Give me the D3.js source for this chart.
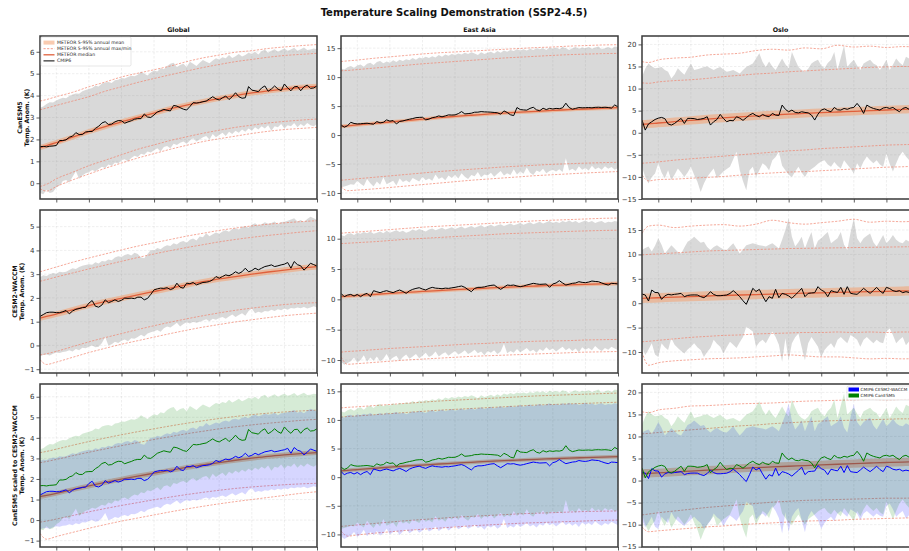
<!DOCTYPE html>
<html><head><meta charset="utf-8">
<script src="https://cdn.jsdelivr.net/npm/d3@7"></script>
<style>body{margin:0;background:#fff}svg{display:block;font-family:"DejaVu Sans",sans-serif}</style>
</head><body><svg id="c" width="909" height="551"></svg>
<script>
// ---------------- DATA ----------------
const YEARS = d3.range(2015, 2101);
const METEOR_YEARS = [2015,2017,2020,2025,2030,2035,2040,2045,2050,2055,2060,2065,2070,2075,2080,2085,2090,2095,2100];
const X_TICKS = [2020,2030,2040,2050,2060,2070,2080,2090,2100];
const ROW_LABELS = ["CanESM5", "CESM2-WACCM", "CanESM5 scaled to CESM2-WACCM"];
const COL_TITLES = ["Global", "East Asia", "Oslo"];

// CMIP6 CanESM5
const CAN_GLB_MEAN = [1.67,1.68,1.66,1.69,1.70,1.72,1.95,1.95,1.98,2.10, 2.15,2.31,2.22,2.22,2.34,2.36,2.36,2.50,2.60,2.75, 2.81,2.68,2.70,2.80,2.86,2.85,2.74,2.80,2.85,2.92, 2.95,2.95,3.16,3.02,3.00,3.12,3.25,3.31,3.37,3.33, 3.30,3.55,3.52,3.45,3.38,3.34,3.50,3.68,3.66,3.68, 3.72,3.75,3.85,3.95,3.85,3.80,3.90,3.98,3.82,3.95, 4.13,3.95,3.88,3.90,4.41,4.25,4.22,4.18,4.35,4.44, 4.20,4.30,4.44,4.30,4.22,4.53,4.35,4.22,4.40,4.42, 4.22,4.40,4.48,4.33,4.35,4.44];
const CAN_GLB_MAX = [3.45,3.50,3.62,3.70,3.68,3.78,3.85,3.90,3.88,3.98, 4.05,4.10,4.08,4.20,4.25,4.30,4.35,4.45,4.42,4.55, 4.60,4.62,4.58,4.70,4.72,4.80,4.78,4.85,4.90,4.88, 4.95,5.10,5.00,4.92,5.05,5.15,5.10,5.25,5.20,5.35, 5.45,5.50,5.30,5.40,5.45,5.30,5.55,5.45,5.35,5.50, 5.62,5.55,5.48,5.60,5.70,5.65,5.75,5.70,5.85,5.72, 5.80,5.90,5.78,5.85,5.95,5.90,6.00,5.88,6.02,6.10, 5.95,6.05,6.12,6.00,6.08,6.15,6.05,6.10,6.18,6.05, 6.12,6.20,6.08,6.10,6.15,6.12];
const CAN_GLB_MIN = [-0.45,-0.50,-0.30,-0.45,-0.40,-0.20,-0.10,0.10,0.15,0.05, 0.30,0.55,0.20,0.35,0.45,0.50,0.60,0.55,0.65,0.75, 0.70,0.85,0.80,0.95,0.90,1.05,1.10,1.00,1.15,1.25, 1.20,1.35,1.30,1.45,1.40,1.50,1.60,1.45,1.65,1.70, 1.60,1.80,1.75,1.85,1.90,1.80,1.95,2.05,1.90,2.00, 2.10,2.15,2.00,2.25,2.10,2.20,2.30,2.15,2.35,2.25, 2.40,2.30,2.45,2.35,2.50,2.40,2.55,2.45,2.60,2.50, 2.65,2.40,2.60,2.55,2.70,2.50,2.65,2.60,2.75,2.55, 2.70,2.60,2.75,2.65,2.60,2.70];
const CAN_EA_MEAN = [1.75,1.35,1.60,2.20,2.00,1.92,1.95,2.00,2.04,1.95, 1.87,2.33,2.10,2.20,2.62,2.40,2.50,1.92,2.35,2.44, 2.60,2.73,2.85,3.00,3.05,3.07,2.62,2.75,3.00,3.10, 3.30,3.15,3.30,3.48,3.45,3.48,3.70,4.05,3.65,3.70, 3.77,3.94,3.95,4.05,4.00,3.98,3.95,3.90,3.85,3.60, 4.17,3.90,3.50,3.36,4.75,4.40,4.34,4.30,4.60,4.80, 4.35,4.20,4.63,4.40,4.60,4.50,4.60,4.55,4.70,5.50, 4.75,4.46,4.60,4.75,4.70,4.72,4.75,4.70,4.78,4.80, 4.76,4.80,4.75,4.65,5.20,4.85];
const CAN_EA_MAX = [11.5,11.3,11.7,11.9,11.6,12.0,12.2,11.8,12.3,12.5, 12.1,12.6,12.8,12.4,12.7,12.5,12.9,12.6,13.0,12.8, 13.1,12.9,13.3,13.0,13.4,13.2,13.5,13.3,13.6,13.4, 13.8,13.5,13.9,13.7,14.0,13.8,14.1,13.9,14.2,14.0, 14.3,14.1,13.8,14.3,14.0,14.2,14.4,14.1,14.5,14.2, 14.6,14.4,14.7,14.5,14.8,14.6,14.8,14.6,14.9,14.7, 15.0,14.8,15.0,14.7,15.1,14.9,15.1,14.8,15.2,15.0, 14.7,15.0,15.2,14.9,15.1,15.0,15.2,14.9,15.1,15.3, 14.8,15.0,15.2,14.9,15.3,15.2];
const CAN_EA_MIN = [-9.0,-8.9,-8.7,-8.5,-8.6,-7.9,-8.4,-8.8,-7.6,-8.3, -8.9,-8.0,-8.6,-7.3,-8.5,-8.2,-7.9,-8.7,-7.5,-8.1, -7.8,-8.2,-7.4,-7.7,-8.0,-7.2,-7.8,-7.5,-7.9,-6.8, -7.6,-7.3,-7.8,-7.0,-7.4,-6.9,-7.5,-6.6,-7.2,-7.6, -6.9,-7.1,-6.4,-7.3,-6.8,-7.0,-6.5,-7.2,-6.7,-6.2, -7.0,-6.6,-6.9,-5.9,-6.8,-6.3,-6.7,-5.6,-6.5,-6.9, -6.1,-6.4,-5.8,-6.6,-6.2,-6.0,-6.3,-5.9,-6.4,-4.0, -6.1,-5.8,-6.2,-5.4,-6.0,-5.7,-6.1,-5.3,-5.9,-5.6, -6.0,-5.4,-5.8,-5.5,-6.0,-5.7];
const CAN_OSLO_MEAN = [2.87,0.60,2.00,2.49,3.00,3.30,3.47,3.20,2.00,1.74, 2.10,2.70,3.25,2.10,3.25,3.25,3.20,3.00,3.10,3.25, 3.62,1.74,2.50,3.00,4.15,3.20,2.49,2.80,2.70,3.62, 3.30,2.80,3.40,4.00,4.38,3.90,3.60,4.15,3.80,3.62, 4.38,4.00,3.90,6.26,5.30,4.75,5.13,4.60,4.50,4.75, 4.60,4.50,4.00,2.87,4.20,5.13,5.40,5.00,4.75,5.73, 5.20,5.13,5.50,5.30,5.60,5.73,6.64,5.73,4.38,6.26, 5.80,5.50,5.30,5.13,5.60,5.73,5.50,5.73,5.20,4.75, 5.50,5.73,5.28,5.90,5.40,5.70];
const CAN_OSLO_MAX = [12.7,14.5,15.7,15.0,14.6,14.7,14.9,14.2,13.8,12.3, 13.2,14.6,13.8,13.1,14.5,15.7,14.2,14.4,14.6,14.9, 15.0,14.6,14.2,14.6,14.9,14.3,13.8,14.0,14.2,13.8, 13.4,14.2,14.9,15.3,15.7,16.8,18.0,16.0,14.9,16.1, 15.0,14.2,15.5,16.8,15.5,14.6,18.3,16.5,14.9,14.2, 13.8,14.5,15.7,16.2,16.5,15.2,14.6,15.8,16.5,18.3, 14.2,17.0,19.8,14.9,15.8,16.5,15.2,14.2,15.7,16.1, 16.5,15.7,15.3,14.2,15.2,16.5,14.2,15.4,16.8,15.9, 15.3,17.2,16.8,17.0,16.5,17.2];
const CAN_OSLO_MIN = [-7.7,-10.0,-11.5,-10.0,-9.2,-6.9,-9.0,-10.3,-8.5,-10.7, -9.5,-8.1,-9.0,-10.0,-9.0,-7.7,-9.5,-11.1,-13.4,-11.5, -10.0,-9.0,-8.1,-10.3,-9.5,-8.8,-8.2,-7.7,-6.0,-4.3, -8.5,-11.0,-13.0,-8.5,-7.7,-10.0,-8.5,-6.9,-7.5,-8.5, -6.2,-5.5,-4.3,-7.5,-8.5,-9.5,-10.0,-8.8,-7.7,-9.0, -10.0,-8.8,-8.2,-7.7,-7.0,-6.5,-6.2,-7.2,-7.7,-6.6, -7.5,-8.1,-6.2,-7.2,-8.1,-9.2,-6.9,-8.1,-6.5,-5.4, -6.2,-6.9,-6.2,-7.2,-7.7,-4.7,-7.0,-8.8,-6.9,-5.2, -4.3,-5.4,-6.2,-5.5,-6.5,-5.8];

// CMIP6 CESM2-WACCM
const CESM_GLB_MEAN = [1.22,1.30,1.38,1.40,1.40,1.38,1.38,1.42,1.47,1.33, 1.45,1.52,1.55,1.59,1.60,1.78,1.89,1.65,1.61,1.70, 1.92,1.80,1.85,1.92,1.85,1.90,1.99,1.98,1.99,1.97, 2.03,2.03,1.92,1.98,2.15,2.34,2.38,2.41,2.40,2.43, 2.35,2.40,2.62,2.45,2.41,2.62,2.60,2.65,2.55,2.60, 2.65,2.66,2.69,2.76,2.90,2.83,2.90,2.97,2.93,3.00, 3.10,3.03,3.10,3.25,3.10,3.15,3.25,3.18,3.25,3.32, 3.35,3.39,3.32,3.35,3.39,3.42,3.49,3.25,3.53,3.40, 3.35,3.17,3.30,3.46,3.40,3.34];
const CESM_GLB_MAX = [2.87,2.95,2.92,3.00,3.05,3.02,3.10,3.08,3.10,3.18, 3.25,3.22,3.30,3.35,3.39,3.42,3.40,3.50,3.45,3.55, 3.53,3.62,3.58,3.70,3.75,3.72,3.81,3.85,3.78,3.90, 3.85,3.70,3.67,3.85,4.02,4.00,4.10,4.05,4.15,4.22, 4.18,4.30,4.25,4.35,4.40,4.32,4.45,4.50,4.42,4.58, 4.55,4.72,4.60,4.68,4.75,4.70,4.80,4.85,4.78,4.90, 4.93,4.88,4.98,5.02,4.95,5.08,5.14,5.05,5.10,5.18, 5.12,5.15,5.22,5.10,5.20,5.21,5.25,5.30,5.35,5.22, 5.28,5.20,5.32,5.42,5.35,5.28];
const CESM_GLB_MIN = [-0.45,-0.40,-0.38,-0.42,-0.35,-0.30,-0.32,-0.28,-0.26,-0.20, -0.25,-0.15,-0.20,-0.10,-0.12,-0.05,0.00,-0.08,-0.05,0.10, 0.35,0.00,0.05,0.15,0.10,0.20,0.25,0.18,0.30,0.28, 0.35,0.45,0.38,0.50,0.55,0.60,0.65,0.58,0.72,0.80, 0.75,0.85,0.95,0.80,0.90,0.98,0.92,1.00,0.95,1.00, 1.05,1.10,1.02,1.12,1.08,1.15,1.20,1.12,1.22,1.30, 1.20,1.28,1.35,1.25,1.45,1.55,1.35,1.42,1.38,1.45, 1.43,1.50,1.45,1.52,1.48,1.55,1.50,1.58,1.55,1.60, 1.57,1.62,1.55,1.60,1.65,1.60];
const CESM_EA_MEAN = [0.99,0.44,0.70,0.82,0.55,0.82,0.44,0.80,0.99,0.44, 1.43,1.25,1.10,1.30,1.43,1.25,1.10,1.35,1.54,1.30, 0.99,1.40,1.65,1.80,1.92,1.70,1.54,1.80,1.98,1.85, 1.81,1.75,1.85,1.81,1.90,1.98,2.10,2.20,1.98,1.60, 1.26,1.80,1.98,1.98,2.05,2.20,2.30,2.36,1.98,1.65, 2.00,2.36,2.30,2.36,2.20,2.09,2.20,2.36,2.50,2.64, 2.55,2.47,2.50,2.53,1.98,2.53,2.70,3.08,2.70,2.36, 2.50,2.64,2.70,2.91,2.80,2.75,2.85,3.02,2.95,2.91, 2.70,2.50,2.36,2.64,2.60,2.53];
const CESM_EA_MAX = [10.6,10.4,10.8,10.9,10.6,11.0,10.8,11.1,10.9,11.2, 10.8,11.0,11.2,10.9,11.3,11.0,11.2,11.4,11.1,11.3, 11.0,11.2,11.5,11.3,11.6,11.4,11.2,11.5,11.7,11.4, 11.6,11.8,11.5,11.7,11.9,11.6,11.8,12.0,11.7,11.9, 12.1,11.8,12.0,12.2,11.9,12.1,12.3,12.0,12.2,12.4, 12.1,12.3,12.5,12.2,12.4,12.6,12.3,12.5,12.7,12.4, 12.6,12.8,12.5,12.7,12.9,12.6,12.8,12.6,12.9,12.7, 13.0,12.7,12.9,12.6,12.8,13.0,12.7,12.9,12.6,12.8, 12.9,12.6,12.8,12.7,12.9,12.8];
const CESM_EA_MIN = [-10.3,-10.8,-10.5,-10.2,-9.6,-10.4,-10.0,-9.2,-10.3,-9.6, -10.1,-9.4,-10.2,-9.8,-9.0,-10.0,-9.6,-9.3,-10.1,-9.5, -9.1,-9.8,-9.4,-9.0,-9.7,-9.3,-8.8,-9.5,-9.2,-8.6, -9.4,-9.0,-8.7,-9.3,-8.9,-8.5,-9.1,-8.8,-8.4,-9.0, -8.7,-8.3,-8.9,-8.6,-9.2,-8.5,-8.8,-8.4,-9.0,-8.6, -7.3,-8.9,-8.5,-8.8,-8.2,-8.7,-8.4,-8.0,-8.6,-8.3, -8.8,-8.2,-8.5,-7.9,-8.4,-8.1,-8.6,-8.2,-7.8,-8.4, -8.0,-8.5,-8.1,-8.7,-7.9,-8.3,-8.0,-8.4,-7.7,-8.2, -8.5,-8.0,-8.3,-7.8,-8.1,-8.4];
const CESM_OSLO_MEAN = [1.89,1.68,0.45,2.70,2.20,2.16,0.79,1.50,1.82,1.70, 1.82,1.90,2.02,1.34,1.60,1.68,1.70,1.68,1.34,1.13, 1.60,2.36,1.80,1.54,1.54,1.60,1.68,2.00,2.57,2.00, 1.34,0.50,-0.23,1.34,3.05,2.40,2.84,1.50,0.31,1.34, 1.00,2.84,1.13,2.02,1.82,1.50,1.00,1.68,2.30,3.05, 1.34,2.02,2.10,2.16,3.39,2.70,2.36,1.34,2.57,2.36, 2.20,3.25,1.82,3.39,2.02,1.90,1.82,2.40,3.05,2.50, 2.02,2.60,3.25,2.50,2.02,3.25,3.00,2.57,2.40,2.57, 2.16,2.36,2.20,1.90,2.40,2.60];
const CESM_OSLO_MAX = [10.9,11.3,11.6,10.6,11.8,13.3,12.0,10.2,11.0,11.9, 11.2,10.5,10.2,11.4,12.6,13.0,13.6,13.0,12.4,12.6, 11.5,10.9,11.5,11.9,11.4,11.0,10.9,11.6,12.3,11.2, 10.2,11.0,11.9,12.1,12.3,12.1,11.9,11.8,11.6,12.0, 12.3,11.8,11.2,13.0,15.0,17.4,13.6,11.6,12.5,13.6, 11.2,13.0,14.6,11.2,12.8,13.3,14.0,14.6,12.3,12.8, 13.3,14.6,12.0,10.9,14.5,17.4,13.3,12.3,13.3,13.8, 14.3,12.5,11.6,12.8,14.0,12.3,13.0,14.0,13.0,12.5, 12.3,13.0,12.6,11.9,12.5,12.8];
const CESM_OSLO_MIN = [-8.9,-10.6,-9.5,-8.2,-10.5,-11.0,-8.2,-9.0,-9.6,-7.2, -8.5,-9.2,-9.8,-10.3,-9.5,-8.9,-8.2,-9.0,-9.6,-11.0, -10.0,-9.2,-7.5,-8.3,-8.9,-10.3,-9.0,-7.9,-8.5,-9.2, -8.0,-6.9,-4.8,-5.3,-5.8,-8.9,-8.0,-7.5,-8.2,-7.0, -5.8,-6.9,-8.5,-12.0,-7.2,-11.7,-8.2,-7.0,-6.2,-9.0, -11.7,-8.2,-6.9,-7.9,-8.9,-11.0,-9.6,-8.8,-8.2,-9.2, -7.5,-6.9,-7.6,-8.2,-6.5,-7.0,-7.5,-8.9,-7.5,-6.9, -7.6,-8.2,-7.5,-8.0,-8.2,-5.8,-5.2,-6.5,-8.2,-7.5, -6.9,-8.6,-7.8,-8.3,-7.5,-8.0];

// METEOR emulator (sampled at METEOR_YEARS): median, upper outer, upper inner, lower inner, lower outer
const MET_CAN_GLB_MED = [1.62,1.72,1.85,2.10,2.35,2.58,2.80,3.00,3.20,3.40,3.57,3.72,3.87,4.00,4.12,4.22,4.30,4.37,4.42];
const MET_CAN_GLB_HI2 = [3.75,3.82,3.95,4.15,4.40,4.62,4.85,5.02,5.18,5.35,5.55,5.72,5.85,5.98,6.05,6.15,6.22,6.28,6.33];
const MET_CAN_GLB_HI1 = [3.35,3.43,3.55,3.75,3.95,4.20,4.40,4.60,4.78,4.95,5.12,5.28,5.42,5.55,5.65,5.75,5.83,5.88,5.93];
const MET_CAN_GLB_LO1 = [-0.15,-0.05,0.20,0.50,0.80,1.05,1.30,1.55,1.75,1.95,2.12,2.28,2.42,2.55,2.65,2.75,2.82,2.88,2.93];
const MET_CAN_GLB_LO2 = [-0.25,-0.36,-0.15,0.15,0.42,0.68,0.92,1.15,1.35,1.55,1.73,1.90,2.03,2.15,2.27,2.37,2.45,2.50,2.55];
const MET_CESM_GLB_MED = [1.15,1.22,1.32,1.50,1.68,1.84,1.98,2.13,2.27,2.41,2.55,2.68,2.80,2.90,3.00,3.09,3.17,3.25,3.32];
const MET_CESM_GLB_HI2 = [3.10,3.18,3.30,3.50,3.68,3.85,4.02,4.18,4.32,4.46,4.60,4.72,4.84,4.94,5.03,5.10,5.16,5.21,5.25];
const MET_CESM_GLB_HI1 = [2.70,2.77,2.88,3.05,3.22,3.38,3.54,3.70,3.85,3.99,4.12,4.24,4.36,4.46,4.55,4.63,4.70,4.77,4.83];
const MET_CESM_GLB_LO1 = [-0.40,-0.35,-0.25,-0.05,0.15,0.33,0.50,0.67,0.83,0.98,1.12,1.25,1.37,1.48,1.57,1.65,1.72,1.77,1.80];
const MET_CESM_GLB_LO2 = [-0.60,-0.80,-0.70,-0.50,-0.30,-0.12,0.05,0.20,0.35,0.50,0.64,0.77,0.88,0.99,1.08,1.17,1.25,1.31,1.36];
const MET_SCL_GLB_MED = [1.14,1.20,1.30,1.48,1.66,1.83,1.99,2.14,2.28,2.42,2.56,2.68,2.80,2.91,3.01,3.10,3.17,3.23,3.28];
const MET_SCL_GLB_HI2 = [3.28,3.34,3.45,3.64,3.82,3.99,4.15,4.30,4.44,4.58,4.71,4.83,4.94,5.04,5.13,5.20,5.26,5.31,5.35];
const MET_SCL_GLB_HI1 = [2.79,2.85,2.95,3.13,3.30,3.46,3.62,3.77,3.92,4.06,4.20,4.32,4.44,4.54,4.63,4.71,4.78,4.85,4.90];
const MET_SCL_GLB_LO1 = [-0.10,-0.05,0.05,0.22,0.40,0.56,0.71,0.85,0.99,1.12,1.24,1.35,1.45,1.54,1.61,1.67,1.72,1.76,1.79];
const MET_SCL_GLB_LO2 = [-0.65,-0.93,-0.80,-0.60,-0.40,-0.22,-0.05,0.10,0.25,0.40,0.54,0.67,0.79,0.90,1.00,1.10,1.20,1.30,1.38];

const MET_CAN_EA_MED = [1.50,1.60,1.75,2.00,2.25,2.50,2.75,3.00,3.22,3.42,3.62,3.80,3.95,4.10,4.25,4.38,4.50,4.62,4.75];
const MET_CAN_EA_HI2 = [12.7,12.8,12.95,13.25,13.5,13.75,14.0,14.2,14.35,14.5,14.65,14.8,14.95,15.1,15.2,15.35,15.45,15.55,15.6];
const MET_CAN_EA_HI1 = [11.1,11.15,11.3,11.55,11.8,12.05,12.3,12.5,12.7,12.9,13.1,13.3,13.45,13.6,13.75,13.88,13.97,14.05,14.1];
const MET_CAN_EA_LO1 = [-7.8,-7.7,-7.55,-7.3,-7.05,-6.8,-6.55,-6.3,-6.1,-5.9,-5.7,-5.5,-5.35,-5.2,-5.05,-4.95,-4.85,-4.77,-4.7];
const MET_CAN_EA_LO2 = [-8.9,-9.6,-9.5,-9.3,-9.05,-8.8,-8.55,-8.3,-8.05,-7.8,-7.6,-7.4,-7.2,-7.0,-6.85,-6.7,-6.55,-6.42,-6.3];
const MET_CESM_EA_MED = [0.45,0.52,0.62,0.80,0.98,1.15,1.30,1.45,1.60,1.73,1.86,1.98,2.10,2.20,2.30,2.40,2.48,2.56,2.62];
const MET_CESM_EA_HI2 = [10.9,11.0,11.1,11.3,11.5,11.7,11.9,12.05,12.2,12.35,12.5,12.65,12.8,12.95,13.05,13.15,13.25,13.35,13.4];
const MET_CESM_EA_HI1 = [9.2,9.25,9.35,9.5,9.7,9.9,10.05,10.2,10.35,10.5,10.65,10.8,10.9,11.0,11.1,11.2,11.28,11.35,11.4];
const MET_CESM_EA_LO1 = [-8.7,-8.6,-8.5,-8.3,-8.1,-7.95,-7.8,-7.65,-7.5,-7.35,-7.25,-7.1,-7.0,-6.9,-6.85,-6.8,-6.7,-6.65,-6.6];
const MET_CESM_EA_LO2 = [-9.5,-10.7,-10.6,-10.4,-10.2,-10.0,-9.85,-9.7,-9.55,-9.4,-9.3,-9.2,-9.1,-9.0,-8.9,-8.8,-8.7,-8.65,-8.6];
const MET_SCL_EA_MED = [1.10,1.20,1.32,1.55,1.75,1.95,2.12,2.30,2.45,2.60,2.75,2.88,3.00,3.12,3.22,3.32,3.42,3.50,3.58];
const MET_SCL_EA_HI2 = [12.1,12.2,12.3,12.5,12.7,12.9,13.1,13.3,13.45,13.6,13.75,13.9,14.05,14.2,14.3,14.4,14.5,14.6,14.7];
const MET_SCL_EA_HI1 = [10.5,10.6,10.7,10.9,11.1,11.3,11.5,11.7,11.85,12.0,12.15,12.3,12.45,12.6,12.7,12.8,12.9,13.0,13.1];
const MET_SCL_EA_LO1 = [-8.6,-8.5,-8.35,-8.1,-7.85,-7.6,-7.4,-7.2,-7.0,-6.85,-6.7,-6.55,-6.4,-6.3,-6.2,-6.1,-6.0,-5.95,-5.9];
const MET_SCL_EA_LO2 = [-9.4,-10.3,-10.1,-9.8,-9.55,-9.3,-9.1,-8.9,-8.7,-8.5,-8.35,-8.2,-8.05,-7.95,-7.85,-7.75,-7.65,-7.55,-7.5];

const MET_CAN_OSLO_MED = [1.9,2.0,2.2,2.5,2.8,3.1,3.35,3.6,3.82,4.02,4.2,4.38,4.55,4.7,4.85,5.0,5.15,5.3,5.45];
const MET_CAN_OSLO_HI2 = [16.1,15.9,16.5,16.9,17.1,17.6,17.8,18.0,18.6,18.9,18.7,19.2,19.0,19.8,19.4,19.6,19.3,19.5,19.4];
const MET_CAN_OSLO_HI1 = [11.3,11.2,11.5,11.8,12.0,12.3,12.7,13.0,13.3,13.5,13.8,14.0,14.2,14.4,14.6,14.8,14.9,15.0,14.9];
const MET_CAN_OSLO_LO1 = [-6.9,-6.8,-6.6,-6.2,-5.9,-5.6,-5.3,-5.0,-4.7,-4.4,-4.1,-3.9,-3.6,-3.4,-3.2,-3.0,-2.8,-2.7,-2.6];
const MET_CAN_OSLO_LO2 = [-9.6,-10.9,-10.6,-10.5,-10.3,-10.1,-9.9,-9.6,-9.3,-9.1,-8.9,-8.8,-8.6,-8.4,-8.2,-8.0,-7.8,-7.7,-7.5];
const MET_CESM_OSLO_MED = [1.0,1.05,1.12,1.25,1.37,1.48,1.58,1.68,1.78,1.87,1.96,2.05,2.13,2.21,2.29,2.36,2.43,2.5,2.57];
const MET_CESM_OSLO_HI2 = [14.3,15.8,16.0,15.5,15.8,16.0,16.1,15.8,16.2,17.0,16.5,16.2,16.5,16.8,17.2,16.6,16.8,16.7,16.9];
const MET_CESM_OSLO_HI1 = [9.9,10.0,10.1,10.3,10.5,10.7,10.8,10.9,11.0,11.1,11.2,11.25,11.3,11.35,11.4,11.45,11.5,11.55,11.6];
const MET_CESM_OSLO_LO1 = [-7.9,-7.8,-7.6,-7.3,-7.0,-6.8,-6.6,-6.5,-6.3,-6.2,-6.1,-6.0,-6.0,-5.9,-6.0,-5.9,-6.0,-5.9,-5.9];
const MET_CESM_OSLO_LO2 = [-10.0,-12.7,-12.2,-11.8,-11.6,-11.4,-11.3,-11.2,-11.0,-10.8,-10.6,-10.8,-11.0,-11.0,-11.2,-11.4,-11.3,-11.4,-11.3];
const MET_SCL_OSLO_MED = [1.6,1.65,1.75,1.95,2.15,2.35,2.55,2.75,2.92,3.1,3.25,3.4,3.55,3.7,3.85,3.98,4.1,4.2,4.3];
const MET_SCL_OSLO_HI2 = [15.6,15.4,16.0,16.4,16.9,17.0,17.2,17.4,17.5,17.6,17.8,18.0,18.1,18.2,18.3,18.4,18.3,18.4,18.5];
const MET_SCL_OSLO_HI1 = [10.6,10.7,10.9,11.2,11.5,11.8,12.1,12.4,12.6,12.9,13.1,13.3,13.5,13.6,13.7,13.8,13.9,14.0,14.0];
const MET_SCL_OSLO_LO1 = [-7.8,-7.6,-7.3,-6.9,-6.5,-6.1,-5.8,-5.5,-5.2,-4.9,-4.7,-4.5,-4.4,-4.3,-4.2,-4.1,-4.0,-4.0,-3.9];
const MET_SCL_OSLO_LO2 = [-10.5,-11.6,-11.4,-11.1,-10.8,-10.5,-10.3,-10.0,-9.8,-9.6,-9.4,-9.2,-9.1,-9.0,-8.8,-8.7,-8.6,-8.5,-8.4];

// 5-95% spread of METEOR annual mean (half width, K) by column
const MEAN_SPREAD = [0.12, 0.32, 0.95];

// Y-axis tick values per [row][col]
const Y_TICKS = [
  [[0,1,2,3,4,5,6], [-10,-5,0,5,10,15], [-15,-10,-5,0,5,10,15,20]],
  [[-1,0,1,2,3,4,5], [-10,-5,0,5,10], [-10,-5,0,5,10,15]],
  [[-1,0,1,2,3,4,5,6], [-10,-5,0,5,10,15], [-15,-10,-5,0,5,10,15,20]]
];
const Y_DOMAIN = [
  [[-0.72,6.72], [-11.04,17.1], [-15.0,21.9]],
  [[-1.16,5.70], [-12.14,14.73], [-14.3,19.1]],
  [[-1.31,6.62], [-12.2,16.28], [-15.07,21.9]]
];

// ---------------- TABLES ----------------
const CMIP_CAN = [[CAN_GLB_MEAN,CAN_GLB_MIN,CAN_GLB_MAX],[CAN_EA_MEAN,CAN_EA_MIN,CAN_EA_MAX],[CAN_OSLO_MEAN,CAN_OSLO_MIN,CAN_OSLO_MAX]];
const CMIP_CESM = [[CESM_GLB_MEAN,CESM_GLB_MIN,CESM_GLB_MAX],[CESM_EA_MEAN,CESM_EA_MIN,CESM_EA_MAX],[CESM_OSLO_MEAN,CESM_OSLO_MIN,CESM_OSLO_MAX]];
const MET = [
  [[MET_CAN_GLB_MED,MET_CAN_GLB_HI2,MET_CAN_GLB_HI1,MET_CAN_GLB_LO1,MET_CAN_GLB_LO2],
   [MET_CAN_EA_MED,MET_CAN_EA_HI2,MET_CAN_EA_HI1,MET_CAN_EA_LO1,MET_CAN_EA_LO2],
   [MET_CAN_OSLO_MED,MET_CAN_OSLO_HI2,MET_CAN_OSLO_HI1,MET_CAN_OSLO_LO1,MET_CAN_OSLO_LO2]],
  [[MET_CESM_GLB_MED,MET_CESM_GLB_HI2,MET_CESM_GLB_HI1,MET_CESM_GLB_LO1,MET_CESM_GLB_LO2],
   [MET_CESM_EA_MED,MET_CESM_EA_HI2,MET_CESM_EA_HI1,MET_CESM_EA_LO1,MET_CESM_EA_LO2],
   [MET_CESM_OSLO_MED,MET_CESM_OSLO_HI2,MET_CESM_OSLO_HI1,MET_CESM_OSLO_LO1,MET_CESM_OSLO_LO2]],
  [[MET_SCL_GLB_MED,MET_SCL_GLB_HI2,MET_SCL_GLB_HI1,MET_SCL_GLB_LO1,MET_SCL_GLB_LO2],
   [MET_SCL_EA_MED,MET_SCL_EA_HI2,MET_SCL_EA_HI1,MET_SCL_EA_LO1,MET_SCL_EA_LO2],
   [MET_SCL_OSLO_MED,MET_SCL_OSLO_HI2,MET_SCL_OSLO_HI1,MET_SCL_OSLO_LO1,MET_SCL_OSLO_LO2]]
];

// ---------------- LAYOUT / STYLE ----------------
const COL_X = [40, 341, 642], ROW_Y = [36, 210, 384], PW = 277, PH = 163;
const C = {
  grey: "gray", band: "#f4a070", median: "#e0603c", dash: "#f0806a",
  blue: "#0000ff", green: "#008000", frame: "#3a3a3a", tick: "#333"
};
const svg = d3.select("#c");
const defs = svg.append("defs");

svg.append("text").attr("x", 454).attr("y", 15.5).attr("text-anchor", "middle")
  .attr("font-size", 10).attr("font-weight", "bold").attr("fill", "#111")
  .text("Temperature Scaling Demonstration (SSP2-4.5)");

for (let r = 0; r < 3; r++) {
  for (let c = 0; c < 3; c++) {
    const px = COL_X[c], py = ROW_Y[r];
    const x = d3.scaleLinear().domain([2015, 2100]).range([px, px + PW]);
    const y = d3.scaleLinear().domain(Y_DOMAIN[r][c]).range([py + PH, py]);
    const id = `clip${r}${c}`;
    defs.append("clipPath").attr("id", id).append("rect")
      .attr("x", px).attr("y", py).attr("width", PW).attr("height", PH);
    const g = svg.append("g");
    const gp = g.append("g").attr("clip-path", `url(#${id})`);

    // grid
    gp.selectAll(".gx").data(X_TICKS).join("line")
      .attr("x1", d => x(d)).attr("x2", d => x(d)).attr("y1", py).attr("y2", py + PH)
      .attr("stroke", "#b0b0b0").attr("stroke-opacity", 0.35).attr("stroke-width", 0.6).attr("stroke-dasharray", "2.5,1.5");
    gp.selectAll(".gy").data(Y_TICKS[r][c]).join("line")
      .attr("y1", d => y(d)).attr("y2", d => y(d)).attr("x1", px).attr("x2", px + PW)
      .attr("stroke", "#b0b0b0").attr("stroke-opacity", 0.35).attr("stroke-width", 0.6).attr("stroke-dasharray", "2.5,1.5");

    const area = (lo, hi) => d3.area().x((d, i) => x(YEARS[i])).y0((d, i) => y(lo[i])).y1((d, i) => y(hi[i]));
    const line = d3.line().x((d, i) => x(YEARS[i])).y(d => y(d));
    const mline = d3.line().x((d, i) => x(METEOR_YEARS[i])).y(d => y(d)).curve(d3.curveMonotoneX);
    const [med, hi2, hi1, lo1, lo2] = MET[r][c];
    const sp = MEAN_SPREAD[c];

    if (r < 2) {
      const [mean, mn, mx] = (r === 0 ? CMIP_CAN : CMIP_CESM)[c];
      gp.append("path").datum(YEARS).attr("d", area(mn, mx)).attr("fill", C.grey).attr("fill-opacity", 0.3);
    }
    // METEOR
    gp.append("path").datum(METEOR_YEARS)
      .attr("d", d3.area().x((d, i) => x(METEOR_YEARS[i])).y0((d, i) => y(med[i] - sp)).y1((d, i) => y(med[i] + sp)).curve(d3.curveMonotoneX))
      .attr("fill", C.band).attr("fill-opacity", 0.55);
    [hi2, hi1, lo1, lo2].forEach(s => {
      gp.append("path").datum(s).attr("d", mline).attr("fill", "none")
        .attr("stroke", C.dash).attr("stroke-width", 0.8).attr("stroke-opacity", 0.85).attr("stroke-dasharray", "2.2,1.4");
    });
    gp.append("path").datum(med).attr("d", mline).attr("fill", "none")
      .attr("stroke", C.median).attr("stroke-width", 1.3);

    if (r < 2) {
      const [mean] = (r === 0 ? CMIP_CAN : CMIP_CESM)[c];
      gp.append("path").datum(mean).attr("d", line).attr("fill", "none").attr("stroke", "#000").attr("stroke-width", 1);
    } else {
      const [mC, nC, xC] = CMIP_CAN[c];
      const [mW, nW, xW] = CMIP_CESM[c];
      gp.append("path").datum(YEARS).attr("d", area(nW, xW)).attr("fill", C.blue).attr("fill-opacity", 0.16);
      gp.append("path").datum(YEARS).attr("d", area(nC, xC)).attr("fill", C.green).attr("fill-opacity", 0.16);
      gp.append("path").datum(mW).attr("d", line).attr("fill", "none").attr("stroke", C.blue).attr("stroke-width", 1);
      gp.append("path").datum(mC).attr("d", line).attr("fill", "none").attr("stroke", C.green).attr("stroke-width", 1);
    }

    // axes
    const ay = g.append("g").attr("transform", `translate(${px},0)`)
      .call(d3.axisLeft(y).tickValues(Y_TICKS[r][c]).tickSize(3.5).tickPadding(2).tickFormat(d3.format("d")));
    const ax = g.append("g").attr("transform", `translate(0,${py + PH})`)
      .call(d3.axisBottom(x).tickValues(X_TICKS).tickSize(3.5).tickFormat(""));
    [ax, ay].forEach(a => {
      a.select(".domain").remove();
      a.selectAll(".tick line").attr("stroke", C.tick).attr("stroke-width", 0.8);
      a.selectAll(".tick text").attr("font-size", 7).attr("fill", "#333").attr("font-family", "DejaVu Sans");
    });
    g.append("rect").attr("x", px).attr("y", py).attr("width", PW).attr("height", PH)
      .attr("fill", "none").attr("stroke", C.frame).attr("stroke-width", 1.5);

    if (r === 0) {
      svg.append("text").attr("x", px + PW / 2).attr("y", 32).attr("text-anchor", "middle")
        .attr("font-size", 6.3).attr("font-weight", "bold").attr("fill", "#111").text(COL_TITLES[c]);
    }
    if (c === 0) {
      const cy = py + PH / 2;
      const lx = r === 0 ? [19.5, 26.5] : [14, 21];
      [ROW_LABELS[r], "Temp. Anom. (K)"].forEach((t, k) => {
        svg.append("text").attr("transform", `translate(${lx[k]},${cy}) rotate(-90)`)
          .attr("text-anchor", "middle").attr("dominant-baseline", "central")
          .attr("font-size", 6.2).attr("font-weight", "bold").attr("fill", "#111").text(t);
      });
    }
  }
}

// Legend 1 (top-left panel)
const L1 = svg.append("g");
L1.append("rect").attr("x", 41).attr("y", 37).attr("width", 90).attr("height", 29).attr("rx", 1.5)
  .attr("fill", "#fff").attr("fill-opacity", 0.85).attr("stroke", "#ccc").attr("stroke-width", 0.5);
const L1_ITEMS = ["METEOR 5-95% annual mean", "METEOR 5-95% annual max/min", "METEOR median", "CMIP6"];
L1_ITEMS.forEach((t, i) => {
  const yy = 42.6 + i * 6.1;
  if (i === 0) L1.append("rect").attr("x", 43.5).attr("y", yy - 2).attr("width", 11).attr("height", 4).attr("fill", C.band).attr("fill-opacity", 0.55);
  if (i === 1) L1.append("line").attr("x1", 43.5).attr("x2", 54.5).attr("y1", yy).attr("y2", yy).attr("stroke", C.dash).attr("stroke-width", 0.8).attr("stroke-dasharray", "2.2,1.4");
  if (i === 2) L1.append("line").attr("x1", 43.5).attr("x2", 54.5).attr("y1", yy).attr("y2", yy).attr("stroke", C.median).attr("stroke-width", 1.3);
  if (i === 3) L1.append("line").attr("x1", 43.5).attr("x2", 54.5).attr("y1", yy).attr("y2", yy).attr("stroke", "#000").attr("stroke-width", 1);
  L1.append("text").attr("x", 57).attr("y", yy).attr("dominant-baseline", "central")
    .attr("font-size", 4.6).attr("fill", "#222").text(t);
});
// Legend 2 (bottom-right panel)
const L2 = svg.append("g");
L2.append("rect").attr("x", 847).attr("y", 386).attr("width", 70).attr("height", 14).attr("rx", 1.5)
  .attr("fill", "#fff").attr("fill-opacity", 0.85).attr("stroke", "#ccc").attr("stroke-width", 0.5);
[["CMIP6 CESM2-WACCM", C.blue], ["CMIP6 CanESM5", C.green]].forEach(([t, col], i) => {
  const yy = 389.5 + i * 6;
  L2.append("rect").attr("x", 848.5).attr("y", yy - 2).attr("width", 10.5).attr("height", 4).attr("fill", col);
  L2.append("text").attr("x", 860.5).attr("y", yy).attr("dominant-baseline", "central")
    .attr("font-size", 4.25).attr("fill", "#222").text(t);
});
</script></body></html>
